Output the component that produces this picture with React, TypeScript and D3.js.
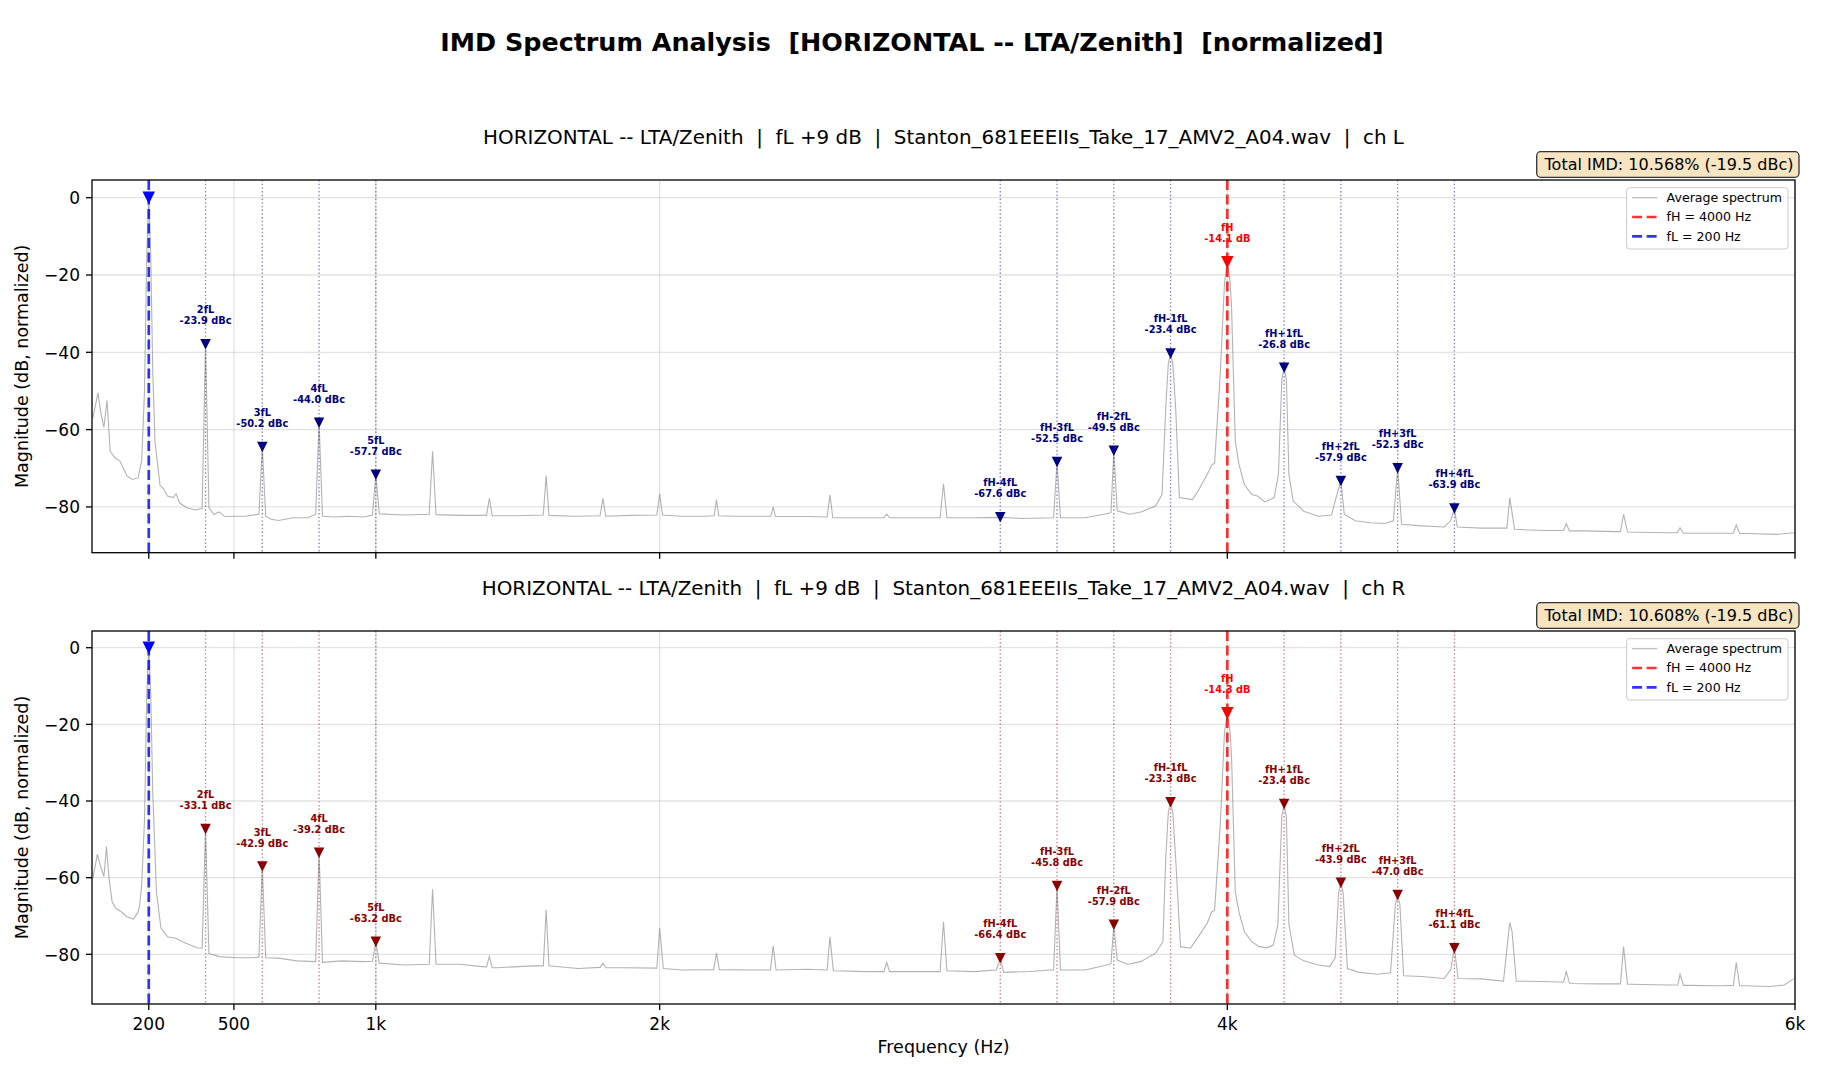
import * as d3 from "d3";

const FONT = "DejaVu Sans, Liberation Sans, sans-serif";
const W = 1824;
const H = 1080;

const fL = 200;
const fH = 4000;

const xTicks = [200, 500, 1000, 2000, 4000, 6000];
const xTickLabels = ["200", "500", "1k", "2k", "4k", "6k"];
const yTicks = [0, -20, -40, -60, -80];

const componentNames = [
  "2fL", "3fL", "4fL", "5fL",
  "fH-4fL", "fH-3fL", "fH-2fL", "fH-1fL",
  "fH+1fL", "fH+2fL", "fH+3fL", "fH+4fL",
];
const componentFreqs = [400, 600, 800, 1000, 3200, 3400, 3600, 3800, 4200, 4400, 4600, 4800];

// marker level (dB, normalized) and label value (dBc) per component
const levelsL = [-37.9, -64.5, -58.2, -71.7, -82.7, -68.4, -65.5, -40.3, -44.0, -73.3, -70.0, -80.4];
const dbcL = [-23.9, -50.2, -44.0, -57.7, -67.6, -52.5, -49.5, -23.4, -26.8, -57.9, -52.3, -63.9];
const levelsR = [-47.3, -57.1, -53.5, -76.7, -81.0, -62.2, -72.3, -40.3, -40.8, -61.3, -64.5, -78.4];
const dbcR = [-33.1, -42.9, -39.2, -63.2, -66.4, -45.8, -57.9, -23.3, -23.4, -43.9, -47.0, -61.1];

const fhLevelL = -16.7;
const fhLabelL = -14.1;
const fhLevelR = -17.1;
const fhLabelR = -14.3;

const imdL = "Total IMD: 10.568% (-19.5 dBc)";
const imdR = "Total IMD: 10.608% (-19.5 dBc)";

const titleBase = "HORIZONTAL -- LTA/Zenith  |  fL +9 dB  |  Stanton_681EEEIIs_Take_17_AMV2_A04.wav  |  ch ";

// average spectrum, [Hz, dB]
const specL: [number, number][] = [
  [3, -57], [21, -50.5], [32, -56], [42, -59.4], [53, -52.5], [64, -65.6], [81, -67.3], [99, -68.2],
  [123, -72], [142, -72.9], [162, -72.5], [175, -68.2], [185, -50], [193, -15], [200, 0.2], [207, -15],
  [214, -45], [222, -63], [240, -74.6], [249, -75], [266, -77.2], [286, -77.6], [296, -76.6], [309, -79],
  [334, -80.2], [364, -80.8], [388, -80.4], [400, -37.9], [412, -80.2], [429, -81.9], [449, -81.3],
  [468, -82.5], [501, -82.4], [540, -82.4], [588, -81.9], [600, -64.5], [612, -82.4], [631, -83.2],
  [657, -83.5], [709, -82.8], [761, -82.8], [788, -81.9], [800, -58.2], [812, -82.4], [853, -82.6],
  [905, -82.4], [957, -82.6], [988, -82.1], [1000, -71.7], [1012, -81.8], [1100, -82.1], [1188, -81.9],
  [1200, -65.6], [1212, -82], [1300, -82.2], [1390, -82.2], [1400, -77.8], [1410, -82.3], [1500, -82.3],
  [1590, -82.1], [1600, -71.9], [1610, -82.2], [1700, -82.4], [1790, -82.3], [1800, -77.8], [1810, -82.4],
  [1900, -82.2], [1990, -82.1], [2000, -76.6], [2010, -82.1], [2079, -82.4], [2157, -82.4], [2192, -82.3],
  [2200, -78.1], [2208, -82.3], [2261, -82.4], [2326, -82.4], [2392, -82.4], [2400, -80], [2408, -82.5],
  [2522, -82.5], [2590, -82.6], [2600, -76.9], [2610, -82.8], [2652, -82.8], [2704, -82.8], [2790, -82.8],
  [2800, -81.9], [2810, -82.8], [2913, -82.8], [2988, -82.8], [3000, -74], [3012, -82.8], [3108, -82.8],
  [3200, -82.7], [3277, -83], [3388, -82.8], [3400, -68.4], [3412, -82.8], [3499, -82.8], [3564, -81.9],
  [3590, -81.5], [3600, -65.5], [3612, -81], [3655, -81.9], [3695, -81.3], [3747, -79.8], [3770, -76.8],
  [3783, -54.4], [3792, -43], [3800, -40.3], [3808, -43], [3818, -54.4], [3831, -77.6], [3877, -78.1],
  [3897, -75.9], [3929, -71.6], [3946, -69], [3955, -68.8], [3975, -45.8], [3990, -22], [4000, -16.7],
  [4010, -22], [4015, -28.6], [4028, -63], [4041, -69], [4060, -74.2], [4086, -76.8], [4106, -77.2],
  [4132, -78.7], [4165, -77.6], [4180, -71.6], [4192, -47], [4200, -44], [4208, -47], [4217, -71.6],
  [4232, -78.5], [4269, -81.1], [4321, -82.4], [4367, -82.1], [4386, -76.8], [4400, -73.3], [4412, -81.9],
  [4451, -83.6], [4503, -84.1], [4555, -84.3], [4585, -83.6], [4600, -70], [4614, -84.5], [4686, -84.9],
  [4764, -85.2], [4787, -83.6], [4800, -80.4], [4810, -85.2], [4894, -85.5], [4985, -85.5], [4995, -77.6],
  [5012, -85.8], [5116, -86.1], [5185, -86.1], [5194, -84.3], [5205, -86.2], [5259, -86.2], [5363, -86.4],
  [5385, -86.4], [5396, -81.9], [5410, -86.5], [5546, -86.7], [5585, -86.7], [5595, -85.4], [5607, -86.8],
  [5702, -86.8], [5783, -86.8], [5793, -84.7], [5805, -86.9], [5833, -86.9], [5937, -87.1], [5995, -86.7],
];

const specR: [number, number][] = [
  [3, -60.2], [19, -53.9], [30, -57], [42, -59.7], [51, -51.9], [60, -60.2], [71, -66.3], [84, -68],
  [103, -68.9], [123, -70.2], [146, -70.8], [162, -69], [168, -67.1], [175, -61.9], [185, -45], [193, -12],
  [200, 0.2], [207, -12], [214, -37.6], [227, -63.7], [243, -73.2], [266, -75.4], [295, -75.8], [331, -77.1],
  [370, -78.3], [388, -78.4], [400, -47.3], [412, -79.8], [449, -80.6], [514, -80.9], [566, -80.9],
  [588, -80.7], [600, -57.1], [612, -80.9], [657, -81], [722, -81.7], [788, -81.9], [800, -53.5],
  [812, -82.1], [879, -81.7], [957, -81.9], [988, -81.8], [1000, -76.7], [1012, -82.3], [1100, -82.8],
  [1188, -82.6], [1200, -63], [1212, -82.6], [1296, -82.6], [1374, -83.2], [1390, -83.3], [1400, -80.6],
  [1410, -83.5], [1426, -83.5], [1556, -83], [1590, -83], [1600, -68.4], [1610, -83], [1713, -83.7],
  [1790, -83.4], [1800, -82.3], [1810, -83.5], [1882, -83.5], [1990, -83.6], [2000, -73.2], [2013, -83.7],
  [2079, -84.1], [2190, -84], [2200, -79.7], [2210, -84], [2326, -84.1], [2390, -84.1], [2400, -77.8],
  [2410, -84.1], [2522, -83.9], [2590, -84.1], [2600, -75.4], [2612, -84.3], [2730, -84.5], [2790, -84.5],
  [2800, -82.1], [2810, -84.5], [2913, -84.5], [2988, -84.5], [3000, -71.5], [3012, -84.3], [3108, -84.5],
  [3186, -84.1], [3200, -81], [3212, -84.7], [3304, -84.5], [3375, -84.1], [3388, -84.1], [3400, -62.2],
  [3412, -84.1], [3499, -84.1], [3564, -83], [3590, -82.5], [3600, -72.3], [3612, -81.5], [3649, -82.6],
  [3695, -81.9], [3747, -79.7], [3773, -76.7], [3783, -55], [3792, -43], [3800, -40.3], [3808, -43],
  [3818, -55], [3835, -78], [3870, -78.4], [3890, -76.3], [3929, -71.9], [3945, -68.9], [3955, -68.6],
  [3975, -46.3], [3990, -22], [4000, -17.1], [4010, -22], [4015, -28.9], [4028, -63.7], [4041, -68.9],
  [4060, -74.1], [4086, -76.7], [4112, -78], [4138, -78.3], [4162, -77.6], [4178, -72.3], [4192, -44],
  [4200, -40.8], [4208, -44], [4217, -72.3], [4236, -80.2], [4269, -81.7], [4321, -82.8], [4360, -83.2],
  [4380, -81], [4392, -64], [4400, -61.3], [4408, -64], [4423, -83.7], [4464, -84.7], [4529, -85.2],
  [4575, -84.8], [4592, -67], [4600, -64.5], [4608, -67], [4621, -85.6], [4686, -85.8], [4764, -86.3],
  [4787, -84], [4800, -78.4], [4813, -86.3], [4894, -86.4], [4973, -87], [4990, -75], [4995, -71.7],
  [5003, -74], [5018, -87], [5116, -87.1], [5185, -87.3], [5194, -84.3], [5205, -87.5], [5220, -87.6],
  [5311, -87.7], [5385, -87.7], [5396, -78], [5410, -87.8], [5422, -87.8], [5546, -88], [5587, -88],
  [5595, -85.2], [5607, -88.1], [5618, -88.1], [5741, -88.2], [5783, -88.1], [5793, -82.1], [5805, -88.2],
  [5820, -88.2], [5911, -88.4], [5963, -88], [5995, -86.4],
];

const margin = { left: 92, right: 1795 };

const x = d3.scaleLinear().domain([0, 6000]).range([margin.left, margin.right]);

interface PanelProps {
  top: number;
  bottom: number;
  yDomain: [number, number];
  spectrum: [number, number][];
  levels: number[];
  dbc: number[];
  fhLevel: number;
  fhLabel: number;
  imd: string;
  title: string;
  accent: string;
  guide: string;
  showXLabels: boolean;
  id: string;
}

function tri(cx: number, cy: number, s: number) {
  const h = s / 2;
  return `M${cx - h},${cy - h}L${cx + h},${cy - h}L${cx},${cy + h}Z`;
}

function Panel(p: PanelProps) {
  const y = d3.scaleLinear().domain(p.yDomain).range([p.bottom, p.top]);
  const line = d3
    .line<[number, number]>()
    .x((d) => x(d[0]))
    .y((d) => y(d[1]));
  const L = margin.left;
  const R = margin.right;

  const label = (cx: number, cy: number, l1: string, l2: string, color: string, key: string) => (
    <text
      key={key}
      x={cx}
      textAnchor="middle"
      fontFamily={FONT}
      fontSize={9.8}
      fontWeight="bold"
      fill={color}
    >
      <tspan x={cx} y={cy - 31}>{l1}</tspan>
      <tspan x={cx} y={cy - 20}>{l2}</tspan>
    </text>
  );

  return (
    <g>
      <defs>
        <clipPath id={`clip-${p.id}`}>
          <rect x={L} y={p.top} width={R - L} height={p.bottom - p.top} />
        </clipPath>
      </defs>
      <rect x={L} y={p.top} width={R - L} height={p.bottom - p.top} fill="#fff" />

      {/* grid */}
      <g stroke="#b0b0b0" strokeOpacity={0.35} strokeWidth={1.3}>
        {yTicks.map((t) => (
          <line key={`gy${t}`} x1={L} x2={R} y1={y(t)} y2={y(t)} />
        ))}
        {xTicks.map((t) => (
          <line key={`gx${t}`} x1={x(t)} x2={x(t)} y1={p.top} y2={p.bottom} />
        ))}
      </g>

      <g clipPath={`url(#clip-${p.id})`}>
        <path d={line(p.spectrum) ?? ""} fill="none" stroke="#808080" strokeOpacity={0.6} strokeWidth={1.1} />

        {componentFreqs.map((f) => (
          <line
            key={`v${f}`}
            x1={x(f)}
            x2={x(f)}
            y1={p.top}
            y2={p.bottom}
            stroke={p.guide}
            strokeOpacity={0.5}
            strokeWidth={1.3}
            strokeDasharray="1.4,2.3"
          />
        ))}
        <line x1={x(fL)} x2={x(fL)} y1={p.top} y2={p.bottom} stroke="#0000ff" strokeOpacity={0.8}
          strokeWidth={2.7} strokeDasharray="10,4.5" />
        <line x1={x(fH)} x2={x(fH)} y1={p.top} y2={p.bottom} stroke="#ff0000" strokeOpacity={0.8}
          strokeWidth={2.7} strokeDasharray="10,4.5" />
      </g>

      {/* markers */}
      <path d={tri(x(fL), y(0), 12.5)} fill="#0000ff" />
      <path d={tri(x(fH), y(p.fhLevel), 12.5)} fill="#ff0000" />
      {componentFreqs.map((f, i) => (
        <path key={`m${f}`} d={tri(x(f), y(p.levels[i]), 10.5)} fill={p.accent} />
      ))}

      {label(x(fH), y(p.fhLevel), "fH", `${p.fhLabel.toFixed(1)} dB`, "#ff0000", "lfh")}
      {componentFreqs.map((f, i) =>
        label(x(f), y(p.levels[i]), componentNames[i], `${p.dbc[i].toFixed(1)} dBc`, p.accent, `l${f}`)
      )}

      {/* spines */}
      <rect x={L} y={p.top} width={R - L} height={p.bottom - p.top} fill="none" stroke="#000" strokeWidth={1.3} />

      {/* y axis */}
      {yTicks.map((t) => (
        <g key={`yt${t}`}>
          <line x1={L - 6} x2={L} y1={y(t)} y2={y(t)} stroke="#000" strokeWidth={1.3} />
          <text x={L - 12} y={y(t) + 6.2} textAnchor="end" fontFamily={FONT} fontSize={17}>
            {t === 0 ? "0" : `\u2212${Math.abs(t)}`}
          </text>
        </g>
      ))}
      <text
        transform={`translate(28,${(p.top + p.bottom) / 2}) rotate(-90)`}
        textAnchor="middle"
        fontFamily={FONT}
        fontSize={17.5}
      >
        Magnitude (dB, normalized)
      </text>

      {/* x axis */}
      {xTicks.map((t, i) => (
        <g key={`xt${t}`}>
          <line x1={x(t)} x2={x(t)} y1={p.bottom} y2={p.bottom + 6} stroke="#000" strokeWidth={1.3} />
          {p.showXLabels && (
            <text x={x(t)} y={p.bottom + 26} textAnchor="middle" fontFamily={FONT} fontSize={17}>
              {xTickLabels[i]}
            </text>
          )}
        </g>
      ))}

      {/* title */}
      <text
        x={(L + R) / 2}
        y={p.top - 36}
        textAnchor="middle"
        fontFamily={FONT}
        fontSize={19.9}
        style={{ whiteSpace: "pre" }}
      >
        {p.title}
      </text>

      {/* total IMD box */}
      <rect x={1536.7} y={p.top - 28.3} width={262.3} height={25.6} rx={4} fill="#f5deb3" fillOpacity={0.8}
        stroke="#333" strokeWidth={1.3} />
      <text x={1793.5} y={p.top - 9.7} textAnchor="end" fontFamily={FONT} fontSize={16}>
        {p.imd}
      </text>

      {/* legend */}
      <g transform={`translate(1626.6,${p.top + 7.7})`} fontFamily={FONT} fontSize={12.6}>
        <rect x={0} y={0} width={161.4} height={61.3} rx={3} fill="#fff" fillOpacity={0.8} stroke="#cccccc" strokeWidth={1} />
        <line x1={5.5} x2={30.7} y1={10} y2={10} stroke="#808080" strokeOpacity={0.6} strokeWidth={1.1} />
        <text x={40} y={14.5}>Average spectrum</text>
        <line x1={5.5} x2={30.7} y1={29.3} y2={29.3} stroke="#ff0000" strokeOpacity={0.8} strokeWidth={2.7} strokeDasharray="10,4.5" />
        <text x={40} y={33.8}>fH = 4000 Hz</text>
        <line x1={5.5} x2={30.7} y1={48.6} y2={48.6} stroke="#0000ff" strokeOpacity={0.8} strokeWidth={2.7} strokeDasharray="10,4.5" />
        <text x={40} y={53.1}>fL = 200 Hz</text>
      </g>
    </g>
  );
}

export default function App() {
  return (
    <div style={{ position: "absolute", left: 0, top: 0 }}>
      <svg width={W} height={H} style={{ display: "block", background: "#fff" }}>
        <rect width={W} height={H} fill="#fff" />
        <text
          x={W / 2}
          y={51}
          textAnchor="middle"
          fontFamily={FONT}
          fontSize={25.4}
          fontWeight="bold"
          style={{ whiteSpace: "pre" }}
        >
          IMD Spectrum Analysis  [HORIZONTAL -- LTA/Zenith]  [normalized]
        </text>

        <Panel
          id="L"
          top={180}
          bottom={552.7}
          yDomain={[-91.85, 4.58]}
          spectrum={specL}
          levels={levelsL}
          dbc={dbcL}
          fhLevel={fhLevelL}
          fhLabel={fhLabelL}
          imd={imdL}
          title={titleBase + "L"}
          accent="#000080"
          guide="#000080"
          showXLabels={false}
        />
        <Panel
          id="R"
          top={631}
          bottom={1004}
          yDomain={[-92.96, 4.36]}
          spectrum={specR}
          levels={levelsR}
          dbc={dbcR}
          fhLevel={fhLevelR}
          fhLabel={fhLabelR}
          imd={imdR}
          title={titleBase + "R"}
          accent="#8b0000"
          guide="#8b0000"
          showXLabels={true}
        />

        <text x={(margin.left + margin.right) / 2} y={1053} textAnchor="middle" fontFamily={FONT} fontSize={17.5}>
          Frequency (Hz)
        </text>
      </svg>
    </div>
  );
}
